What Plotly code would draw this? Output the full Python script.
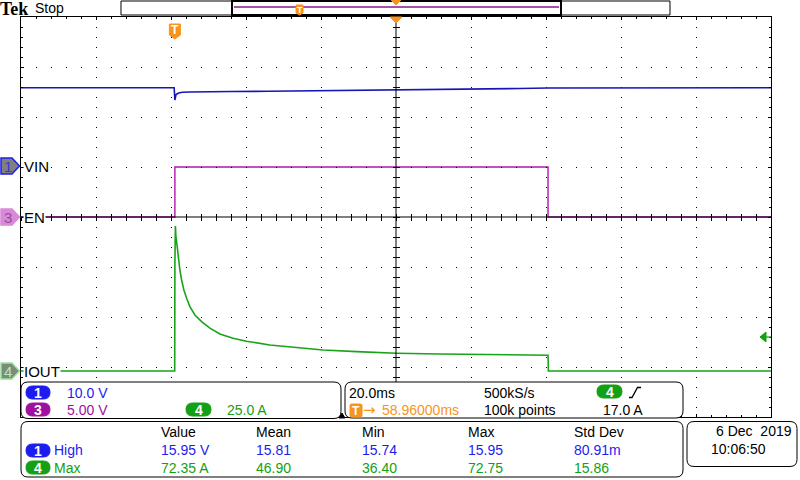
import plotly.graph_objects as go

# ---------------- data read from the screen ----------------
# time in ms relative to trigger
t_vin = [-41.04, -20.0, -0.2, 0.0, 0.3, 1.0, 2.0, 4.0, 7.0, 15.0, 25.0, 33.0, 45.0, 59.0, 70.0, 81.0, 92.0, 99.5, 120.0, 140.0, 158.96]
v_vin = [15.85, 15.85, 15.85, 13.4, 14.5, 14.8, 14.95, 15.0, 15.05, 15.1, 15.15, 15.2, 15.3, 15.4, 15.5, 15.6, 15.7, 15.8, 15.85, 15.85, 15.85]

t_en = [-41.04, 0.0, 0.0, 99.5, 99.5, 158.96]
v_en = [0, 0, 5, 5, 0, 0]

t_iout = [-41.04, -0.05, 0.0, 0.13, 0.27, 0.61, 0.88, 1.33, 1.79, 2.4, 3.12, 4.0, 5.33, 7.12, 9.33,
          12.0, 15.5, 19.1, 25.3, 32.5, 39.5, 48.5, 59.1, 70.7, 84.0, 99.1, 99.5, 99.6, 158.96]
i_iout = [0, 0, 54, 72.5, 67.5, 62.2, 57.2, 50.5, 45.5, 40.5, 36.4, 32.2, 28.0, 24.7, 21.4,
          18.5, 16.4, 14.9, 13.0, 11.9, 10.5, 9.7, 8.9, 8.5, 8.2, 7.9, 7.9, 0, 0]

# scope settings
time_div = 20.0          # ms/div
trig_pos = 58.96         # ms, centre of screen relative to trigger
ch1_scale, ch1_pos = 10.0, 1.0     # V/div, div
ch3_scale, ch3_pos = 5.0, 0.0
ch4_scale, ch4_pos = 25.0, -3.08
trig_level = 17.0        # A

meas_headers = ["Value", "Mean", "Min", "Max", "Std Dev"]
meas_high = ["15.95 V", "15.81", "15.74", "15.95", "80.91m"]
meas_max = ["72.35 A", "46.90", "36.40", "72.75", "15.86"]

# ---------------- figure ----------------
L, T, W, H = 21, 17, 750, 400
FONT = "Liberation Sans"
BLUE, PURPLE, GREEN, ORANGE = "#1c1cf0", "#a010a0", "#14a014", "#f7941d"

def PX(px):
    return (px - L) / W

def PY(py):
    return (T + H - py) / H

def P(px, py):
    return f"{PX(px):.5f},{PY(py):.5f}"

def rrect(x0, y0, x1, y1, r):
    return (f"M{P(x0 + r, y0)} L{P(x1 - r, y0)} Q{P(x1, y0)} {P(x1, y0 + r)} "
            f"L{P(x1, y1 - r)} Q{P(x1, y1)} {P(x1 - r, y1)} L{P(x0 + r, y1)} "
            f"Q{P(x0, y1)} {P(x0, y1 - r)} L{P(x0, y0 + r)} Q{P(x0, y0)} {P(x0 + r, y0)} Z")

def chrange(scale, pos):
    return [(-4 - pos) * scale, (4 - pos) * scale]

x_range = [trig_pos - 5 * time_div, trig_pos + 5 * time_div]

fig = go.Figure()
fig.add_trace(go.Scatter(x=t_vin, y=v_vin, mode="lines", line=dict(color="#1616b4", width=1.6),
                         xaxis="x", yaxis="y2", hoverinfo="skip"))
fig.add_trace(go.Scatter(x=t_en, y=v_en, mode="lines", line=dict(color="#b414b4", width=1.4),
                         xaxis="x", yaxis="y3", hoverinfo="skip"))
fig.add_trace(go.Scatter(x=t_iout, y=i_iout, mode="lines", line=dict(color="#18a418", width=1.6),
                         xaxis="x", yaxis="y4", hoverinfo="skip"))
# invisible traces so that the centre-tick axes get drawn
for xa, ya in [("x2", "y"), ("x3", "y"), ("x", "y5"), ("x", "y6")]:
    fig.add_trace(go.Scatter(x=[x_range[0]], y=[0], xaxis=xa, yaxis=ya, mode="markers",
                             marker=dict(opacity=0), showlegend=False, hoverinfo="skip"))

tick0x = x_range[0]
hidden = dict(showgrid=False, zeroline=False, showticklabels=False, showline=False)

fig.update_layout(
    width=800, height=480, autosize=False,
    margin=dict(l=L, r=800 - L - W, t=T, b=480 - T - H, pad=0),
    paper_bgcolor="white", plot_bgcolor="rgba(0,0,0,0)", showlegend=False,
    xaxis=dict(range=x_range, tick0=tick0x, dtick=time_div, showgrid=True, gridcolor="#000000",
               gridwidth=1, griddash="1px,9px", zeroline=False, showticklabels=False,
               ticks="inside", ticklen=3, tickcolor="#000", showline=True, linecolor="#000",
               linewidth=1, mirror="ticks",
               minor=dict(tick0=tick0x, dtick=time_div / 5, ticks="inside", ticklen=2,
                          tickcolor="#000", showgrid=False)),
    yaxis=dict(range=[-4, 4], tick0=-4, dtick=1, showgrid=True, gridcolor="#000000", gridwidth=1,
               griddash="1px,14px", zeroline=False, showticklabels=False, ticks="inside",
               ticklen=3, tickcolor="#000", showline=True, linecolor="#000", linewidth=1,
               mirror="ticks",
               minor=dict(tick0=-4, dtick=0.2, ticks="inside", ticklen=2, tickcolor="#000",
                          showgrid=False)),
    yaxis2=dict(range=chrange(ch1_scale, ch1_pos), overlaying="y", visible=False),
    yaxis3=dict(range=chrange(ch3_scale, ch3_pos), overlaying="y", visible=False),
    yaxis4=dict(range=chrange(ch4_scale, ch4_pos), overlaying="y", visible=False),
    # centre-line tick marks (both sides of the centre cross)
    xaxis2=dict(range=x_range, overlaying="x", anchor="free", position=0.5, side="bottom",
                ticks="outside", ticklen=3, tickcolor="#000", tick0=tick0x, dtick=time_div / 5, **hidden),
    xaxis3=dict(range=x_range, overlaying="x", anchor="free", position=0.5, side="bottom",
                ticks="inside", ticklen=3, tickcolor="#000", tick0=tick0x, dtick=time_div / 5, **hidden),
    yaxis5=dict(range=[-4, 4], overlaying="y", anchor="free", position=0.5, side="left",
                ticks="outside", ticklen=3, tickcolor="#000", tick0=-4, dtick=0.2, **hidden),
    yaxis6=dict(range=[-4, 4], overlaying="y", anchor="free", position=0.5, side="left",
                ticks="inside", ticklen=3, tickcolor="#000", tick0=-4, dtick=0.2, **hidden),
)

shapes = []
# centre cross
shapes.append(dict(type="line", xref="x", yref="paper", x0=trig_pos, x1=trig_pos, y0=0, y1=1,
                   line=dict(color="#000", width=1), layer="above"))
shapes.append(dict(type="line", xref="paper", yref="y", x0=0, x1=1, y0=0, y1=0,
                   line=dict(color="#000", width=1.2), layer="above"))

def add_path(path, fill="white", line="#000", width=1):
    shapes.append(dict(type="path", xref="paper", yref="paper", path=path, fillcolor=fill,
                       line=dict(color=line, width=width), layer="above"))

# top record bar
add_path(f"M{P(121, 1)} L{P(670, 1)} L{P(670, 15)} L{P(121, 15)} Z", fill="white", width=1)
add_path(f"M{P(232, 1)} L{P(561, 1)} L{P(561, 15)} L{P(232, 15)} Z", fill="white", width=2)
shapes.append(dict(type="line", xref="paper", yref="paper", x0=PX(234), x1=PX(559), y0=PY(7), y1=PY(7),
                   line=dict(color="#8a168a", width=1.5), layer="above"))
add_path(f"M{P(296, 5)} L{P(303, 5)} L{P(303, 13)} L{P(299.5, 15)} L{P(296, 13)} Z", fill=ORANGE, line=ORANGE)
add_path(f"M{P(391, 0)} L{P(401, 0)} L{P(396, 5)} Z", fill=ORANGE, line=ORANGE)
add_path(f"M{P(390, 17)} L{P(402, 17)} L{P(396, 23)} Z", fill=ORANGE, line=ORANGE)
# trigger T marker (at t = 0)
tpx = L + (0 - x_range[0]) / (x_range[1] - x_range[0]) * W
add_path(f"M{P(tpx - 5.5, 24)} L{P(tpx + 5.5, 24)} L{P(tpx + 5.5, 35)} L{P(tpx, 39)} L{P(tpx - 5.5, 35)} Z",
         fill=ORANGE, line=ORANGE)

def ypix(val, scale, pos):
    return T + H / 2 - (val / scale + pos) * (H / 8)

markers = [("1", ypix(0, ch1_scale, ch1_pos) - 1, "#808080", "#1c1cf0", "#3a3ad0", "VIN"),
           ("3", ypix(0, ch3_scale, ch3_pos), "#d88ad8", "#d88ad8", "#9a4a9a", "EN"),
           ("4", ypix(0, ch4_scale, ch4_pos), "#7a8c7a", "#9ee09e", "#b8e8b8", "IOUT")]
for num, yc, fill, edge, txtc, label in markers:
    add_path(f"M{P(1, yc - 8)} L{P(12, yc - 8)} L{P(19.5, yc)} L{P(12, yc + 8)} L{P(1, yc + 8)} Z",
             fill=fill, line=edge, width=1.5)

ytl = ypix(trig_level, ch4_scale, ch4_pos)
add_path(f"M{P(760, ytl)} L{P(766, ytl - 5)} L{P(766, ytl + 5)} Z", fill=GREEN, line=GREEN)
shapes.append(dict(type="line", xref="paper", yref="paper", x0=PX(766), x1=PX(771), y0=PY(ytl), y1=PY(ytl),
                   line=dict(color=GREEN, width=1.2), layer="above"))

# bottom panels
add_path(rrect(21, 382, 341, 418.5, 7))
add_path(rrect(345, 382, 683, 418, 7))
add_path(rrect(21, 421.5, 683, 477, 7))
add_path(rrect(687, 421.5, 797, 466.5, 7))
add_path(f"M{P(339, 418)} L{P(345, 418)} L{P(342, 413)} Z", fill="#000", line="#000")

pills = [("1", 26, 386, 50, 399, BLUE), ("3", 26, 403, 50, 416, PURPLE), ("4", 186, 403, 211, 416, GREEN),
         ("4", 597, 385, 622, 398, GREEN), ("1", 26, 444, 50, 457, BLUE), ("4", 26, 461, 50, 474, GREEN)]
for num, x0, y0, x1, y1, col in pills:
    add_path(rrect(x0, y0, x1, y1, (y1 - y0) / 2), fill=col, line=col)

add_path(rrect(350, 404, 362, 417, 1.5), fill=ORANGE, line=ORANGE)
add_path(f"M{P(629, 397.5)} L{P(632, 397.5)} L{P(637.5, 387.5)} L{P(641, 387.5)}", fill="rgba(0,0,0,0)",
         line="#000", width=1.3)

fig.update_layout(shapes=shapes)

ann = []
def txt(px, py, s, color="#000", size=14, anchor="left", family=FONT, bold=False, bg=None):
    if bold:
        s = f"<b>{s}</b>"
    d = dict(xref="paper", yref="paper", x=PX(px), y=PY(py), text=s, showarrow=False,
             xanchor=anchor, yanchor="middle", font=dict(family=family, size=size, color=color),
             borderpad=0)
    if bg:
        d["bgcolor"] = bg
    ann.append(d)

txt(-1, 9, "Tek", size=18, family="Liberation Serif", bold=True)
txt(34, 8, "Stop", size=14)
txt(299.5, 10, "T", color="white", size=9, anchor="center", bold=True)
txt(tpx, 30.5, "T", color="white", size=12, anchor="center", bold=True)

for num, yc, fill, edge, txtc, label in markers:
    txt(8, yc + 0.5, num, color=txtc, size=15, anchor="center")
    txt(22.5, yc, label, size=15, bg="white")

txt(66, 392.5, f"{ch1_scale:.1f} V", color=BLUE)
txt(66, 410, f"{ch3_scale:.2f} V", color=PURPLE)
txt(226, 410, f"{ch4_scale:.1f} A", color=GREEN)
for num, x0, y0, x1, y1, col in pills:
    txt((x0 + x1) / 2, (y0 + y1) / 2 + 0.5, num, color="white", size=14, anchor="center", bold=True)

txt(348, 392.5, f"{time_div:.1f}ms")
txt(483, 392.5, "500kS/s")
txt(356, 410.5, "T", color="white", size=12, anchor="center", bold=True)
txt(362, 410, "→", color=ORANGE, size=15, family="DejaVu Sans")
add_path(f"M{P(372, 405)} L{P(381, 405)} L{P(376.5, 411)} Z", fill=ORANGE, line=ORANGE)
txt(381, 410, f"{trig_pos:.5f}ms", color=ORANGE)
txt(483, 410, "100k points")
txt(602, 410, f"{trig_level:.1f} A")

cols_x = [160, 255, 361, 467, 573]
for cx, h in zip(cols_x, meas_headers):
    txt(cx, 432, h)
txt(53, 450, "High", color=BLUE)
txt(53, 467.5, "Max", color=GREEN)
for cx, v in zip(cols_x, meas_high):
    txt(cx, 450, v, color=BLUE)
for cx, v in zip(cols_x, meas_max):
    txt(cx, 467.5, v, color=GREEN)

txt(793, 430.5, "6 Dec\u00a0\u00a02019", anchor="right")
txt(710, 448.5, "10:06:50")

fig.update_layout(annotations=ann)
fig.write_html("out.html", config={"displayModeBar": False},
               post_script="document.body.style.margin='0';document.body.style.overflow='hidden';")
